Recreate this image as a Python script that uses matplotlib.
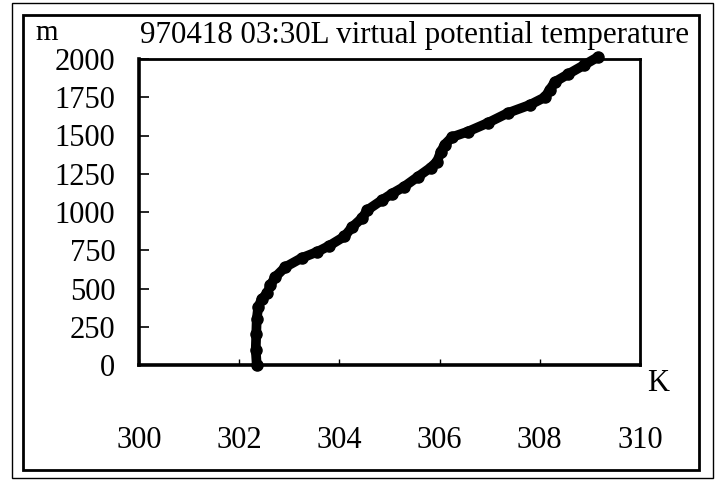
import matplotlib
matplotlib.use("Agg")
import matplotlib.pyplot as plt
from matplotlib.patches import Rectangle


# virtual potential temperature profile
HEIGHT_M = [0, 100, 200, 300, 380, 430, 470, 520, 575, 640, 700, 740, 780, 840,
            900, 960, 1013, 1078, 1120, 1163, 1229, 1290, 1330, 1390, 1440, 1490,
            1525, 1582, 1647, 1700, 1750, 1800, 1850, 1900, 1960, 2013]
THETA_V_K = [302.35, 302.33, 302.34, 302.35, 302.38, 302.45, 302.56, 302.62, 302.72,
             302.92, 303.25, 303.56, 303.80, 304.10, 304.25, 304.45, 304.56, 304.85,
             305.05, 305.28, 305.56, 305.82, 305.95, 306.02, 306.10, 306.25, 306.56,
             306.96, 307.36, 307.80, 308.10, 308.20, 308.30, 308.56, 308.88, 309.16]

X_TICKS = [300, 302, 304, 306, 308, 310]
Y_TICKS = [0, 250, 500, 750, 1000, 1250, 1500, 1750, 2000]
TITLE = "970418 03:30L virtual potential temperature"

W, H = 721, 483
FONT = "Liberation Serif"


def px_box(x0, y0, x1, y1):
    # pixel box (top-left origin) -> figure fraction rect
    return [x0 / W, 1 - y1 / H, (x1 - x0) / W, (y1 - y0) / H]


def main():
    fig = plt.figure(figsize=(W / 100, H / 100), dpi=100)
    fig.patch.set_facecolor("white")

    # double frame round the whole chart
    fig.patches.append(Rectangle((12 / W, 1 - 478 / H), (713 - 12) / W, (478 - 3) / H,
                                 transform=fig.transFigure, fill=False, lw=1.0, ec="black"))
    fig.patches.append(Rectangle((23 / W, 1 - 470 / H), (699 - 23) / W, (470 - 15) / H,
                                 transform=fig.transFigure, fill=False, lw=2.0, ec="black"))

    ax = fig.add_axes(px_box(139, 59, 640, 365))
    # the profile pokes just over the top of the box, as in the scan
    ax.plot(THETA_V_K, HEIGHT_M, color="black", lw=7, solid_capstyle="round",
            solid_joinstyle="round", zorder=3, clip_on=False)
    ax.plot(THETA_V_K, HEIGHT_M, ls="none", marker="o", ms=8, mfc="black", mec="black",
            zorder=4, clip_on=False)

    ax.set_xlim(300, 310)
    ax.set_ylim(0, 2000)
    ax.set_xticks(X_TICKS)
    ax.set_yticks(Y_TICKS)
    ax.set_xticklabels([str(v) for v in X_TICKS], family=FONT, fontsize=22)
    ax.set_yticklabels([str(v) for v in Y_TICKS], family=FONT, fontsize=22)
    ax.tick_params(axis="y", direction="in", length=7, width=1.2, pad=17)
    ax.tick_params(axis="x", direction="in", length=4, width=1.0, pad=44)
    for side in ["left", "bottom"]:
        ax.spines[side].set_linewidth(2.6)
    for side in ["top", "right"]:
        ax.spines[side].set_linewidth(2.0)

    fig.text(140 / W, 1 - 43 / H, TITLE, family=FONT, fontsize=22.3, ha="left", va="baseline")
    fig.text(35 / W, 1 - 40 / H, "m", family=FONT, fontsize=21, ha="left", va="baseline")
    fig.text(647 / W, 1 - 391 / H, "K", family=FONT, fontsize=22, ha="left", va="baseline")

    fig.savefig("out.png", dpi=100)
    plt.close(fig)


if __name__ == "__main__":
    main()
